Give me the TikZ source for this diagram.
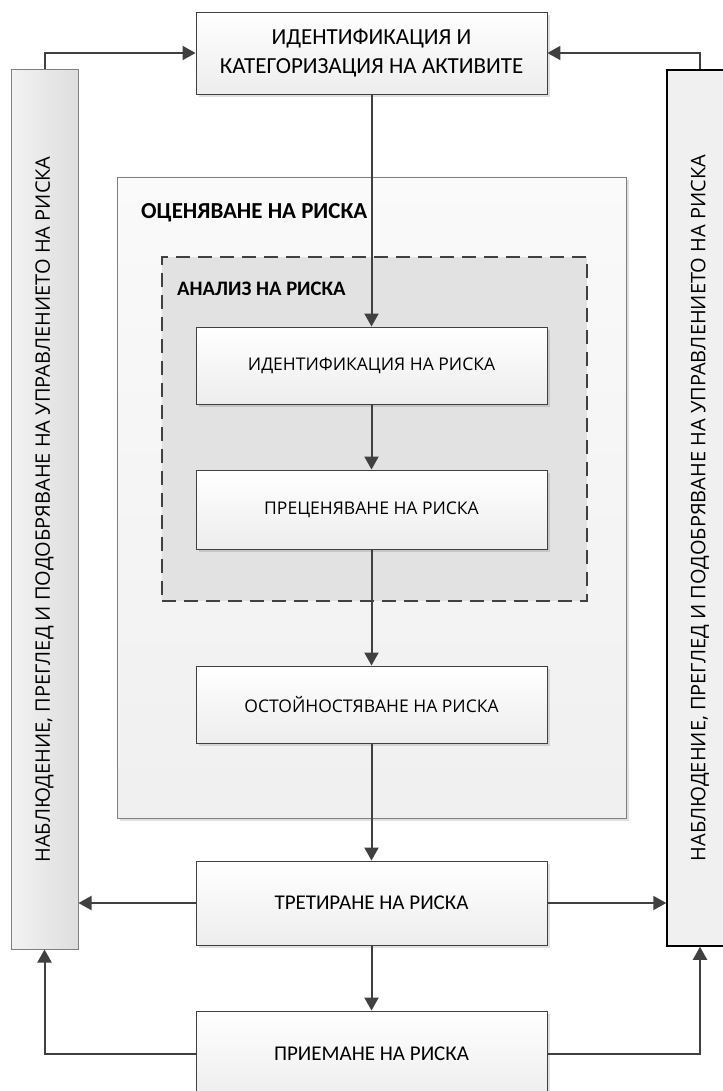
\documentclass[tikz,border=0pt]{standalone}
\usepackage{fontspec}
\setmainfont{Carlito}
\newfontfamily\opensans{Open Sans}
\usetikzlibrary{arrows.meta,shadows}
\definecolor{linegray}{HTML}{404040}
\definecolor{framegray}{HTML}{7F7F7F}
\definecolor{dashfill}{HTML}{E2E2E2}

\begin{document}
\begin{tikzpicture}[x=1pt, y=1pt, >={Triangle[length=13pt,width=14pt]},
  every node/.style={inner sep=0pt, text=black},
  flow/.style={draw=linegray, line width=2pt, ->},
  softshadow/.style={drop shadow={shadow xshift=3pt, shadow yshift=-3pt, opacity=0.12, fill=black}},
  procbox/.style={draw=linegray, line width=0.9pt, top color=white, bottom color=black!7,
    minimum width=351pt, align=center, softshadow},
  stepbox/.style={procbox, font=\opensans\fontsize{17.5}{21}\selectfont},
  actbox/.style={procbox, font=\fontsize{21}{29}\selectfont},
  groupbox/.style={draw=framegray, line width=0.9pt, top color=black!2, bottom color=black!6, softshadow},
  analysisbox/.style={draw=linegray, line width=2pt, dash pattern=on 14pt off 8pt, fill=dashfill},
  grouplabel/.style={anchor=west, font=\bfseries\fontsize{22.9}{26}\selectfont},
  monbar/.style={font=\opensans\fontsize{20}{24}\selectfont}]
\useasboundingbox (0,0) rectangle (722,-1091);

\node[groupbox, minimum width=509pt, minimum height=641pt] (assess) at (371.5,-497.5) {};
\node[grouplabel] (assesslbl) at (141,-213) {ОЦЕНЯВАНЕ НА РИСКА};
\node[analysisbox, minimum width=425pt, minimum height=344pt] (analysis) at (374.5,-429) {};
\node[grouplabel, font=\bfseries\fontsize{20.6}{24}\selectfont] (analysislbl) at (177,-289) {АНАЛИЗ НА РИСКА};

\node[monbar, draw=framegray, line width=1pt, left color=black!5, right color=black!13,
  minimum width=67pt, minimum height=879pt] (monl) at (44.5,-509.5)
  {\rotatebox{90}{НАБЛЮДЕНИЕ, ПРЕГЛЕД И ПОДОБРЯВАНЕ НА УПРАВЛЕНИЕТО НА РИСКА}};
\node[monbar, draw=black, line width=1.5pt, fill=black!6,
  minimum width=66pt, minimum height=876pt] (monr) at (700,-508)
  {\rotatebox{90}{НАБЛЮДЕНИЕ, ПРЕГЛЕД И ПОДОБРЯВАНЕ НА УПРАВЛЕНИЕТО НА РИСКА}};

\node[actbox, font=\fontsize{23}{29}\selectfont, minimum height=82pt] (assets) at (371.5,-53) {ИДЕНТИФИКАЦИЯ И\\КАТЕГОРИЗАЦИЯ НА АКТИВИТЕ};
\node[stepbox, minimum height=77pt] (riskid) at (371.5,-365.5) {ИДЕНТИФИКАЦИЯ НА РИСКА};
\node[stepbox, minimum height=79pt] (riskest) at (371.5,-509.5) {ПРЕЦЕНЯВАНЕ НА РИСКА};
\node[stepbox, minimum height=77pt] (riskeval) at (371.5,-704.5) {ОСТОЙНОСТЯВАНЕ НА РИСКА};
\node[actbox, minimum height=84pt] (treat) at (371.5,-903) {ТРЕТИРАНЕ НА РИСКА};
\node[actbox, minimum height=86pt] (accept) at (371.5,-1054) {ПРИЕМАНЕ НА РИСКА};

\draw[flow] (assets) -- (riskid);
\draw[flow] (riskid) -- (riskest);
\draw[flow] (riskest) -- (riskeval);
\draw[flow] (riskeval) -- (treat);
\draw[flow] (treat) -- (accept);
\draw[flow] (treat.west) -- (treat.west -| monl.east);
\draw[flow] (treat.east) -- (treat.east -| monr.west);
\draw[flow] (accept.west) -| (monl.south);
\draw[flow] (accept.east) -| (monr.south);
\draw[flow] (monl.north) |- (assets.west);
\draw[flow] (monr.north) |- (assets.east);
\end{tikzpicture}
\end{document}
